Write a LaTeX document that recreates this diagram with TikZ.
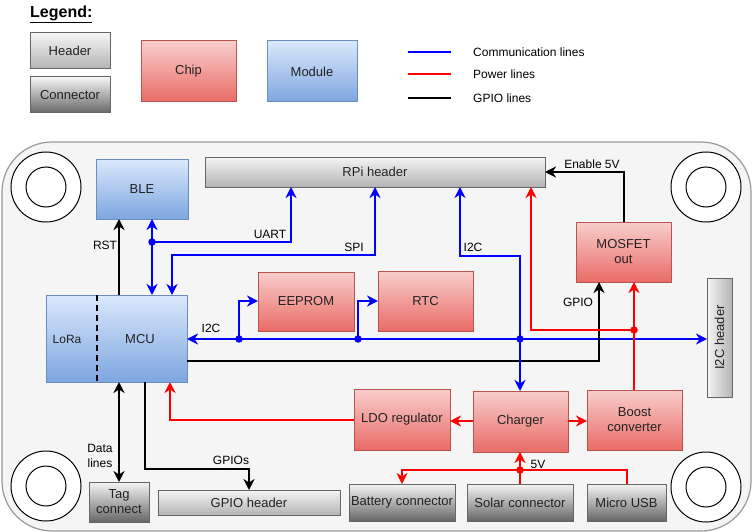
\documentclass[tikz,border=0pt]{standalone}
\usepackage{fontspec}
\setmainfont{Liberation Sans}
\usetikzlibrary{arrows.meta}

\definecolor{chipTop}{HTML}{F8CECC}
\definecolor{chipBot}{HTML}{EA6B66}
\definecolor{chipLine}{HTML}{B85450}
\definecolor{modTop}{HTML}{DAE8FC}
\definecolor{modBot}{HTML}{7EA6E0}
\definecolor{modLine}{HTML}{6C8EBF}
\definecolor{grayTop}{HTML}{F5F5F5}
\definecolor{hdrBot}{HTML}{B3B3B3}
\definecolor{conBot}{HTML}{666666}
\definecolor{grayLine}{HTML}{666666}
\definecolor{boardFill}{HTML}{F5F5F5}
\definecolor{boardLine}{HTML}{999999}
\definecolor{txt}{HTML}{222222}
\definecolor{commBlue}{HTML}{0000FF}
\definecolor{powRed}{HTML}{FF0000}

\tikzset{
  boxbase/.style={draw, line width=1pt, inner sep=1pt, outer sep=0pt, align=center,
    text=txt, font=\fontsize{13}{15}\selectfont},
  chipbox/.style={boxbase, draw=chipLine, top color=chipTop, bottom color=chipBot},
  modbox/.style={boxbase, draw=modLine, top color=modTop, bottom color=modBot},
  hdrbox/.style={boxbase, draw=grayLine, top color=grayTop, bottom color=hdrBot},
  conbox/.style={boxbase, draw=grayLine, top color=grayTop, bottom color=conBot},
  wire/.style={line width=2pt},
  comm/.style={wire, draw=commBlue},
  pow/.style={wire, draw=powRed},
  gpio/.style={wire, draw=black},
  lbl/.style={font=\fontsize{12}{14}\selectfont, text=black, inner sep=0pt, align=center},
  jdot/.style={circle, inner sep=0pt, minimum size=7.5pt},
  hole/.style={draw=black, line width=1pt, fill=white},
}

\begin{document}
\begin{tikzpicture}[x=1pt, y=-1pt, >={Stealth[length=11pt, width=11pt, inset=3.5pt]}]
\useasboundingbox (0,0) rectangle (752,532);

% ---------- legend ----------
\node[anchor=west, inner sep=0pt, font=\fontsize{16}{18}\selectfont\bfseries] (legtitle) at (30,14) {\underline{Legend:}};
\node[hdrbox, minimum width=80, minimum height=36] (lhdr) at (70,51) {Header};
\node[conbox, minimum width=80, minimum height=36] (lcon) at (70,95) {Connector};
\node[chipbox, minimum width=95, minimum height=61] (lchip) at (188.5,71.5) {Chip};
\node[modbox, minimum width=90, minimum height=61] (lmod) at (312,71.5) {Module};

\coordinate (lc1) at (408,52);  \coordinate (lc2) at (451,52);
\coordinate (lp1) at (408,74);  \coordinate (lp2) at (451,74);
\coordinate (lg1) at (408,98);  \coordinate (lg2) at (451,98);
\draw[comm] (lc1) -- (lc2);
\draw[pow]  (lp1) -- (lp2);
\draw[gpio] (lg1) -- (lg2);
\node[lbl, anchor=west] (tcomm) at (473,52) {Communication lines};
\node[lbl, anchor=west] (tpow)  at (473,74) {Power lines};
\node[lbl, anchor=west] (tgpio) at (473,98) {GPIO lines};

% ---------- board outline and mounting holes ----------
\draw[draw=boardLine, line width=1.2pt, fill=boardFill, rounded corners=50pt] (2,142) rectangle (751,531);
\foreach \hx/\hy in {46/187, 706/187, 46/486, 706/487} {
  \draw[hole] (\hx,\hy) circle[radius=35pt];
  \draw[hole] (\hx,\hy) circle[radius=20pt];
}

% ---------- blocks ----------
\node[modbox, minimum width=92, minimum height=60] (ble) at (142,189) {BLE};
\node[hdrbox, minimum width=340, minimum height=30] (rpi) at (375,172) {RPi header};
\node[modbox, minimum width=141, minimum height=87] (mcu) at (116.5,338.5) {};
\node[lbl, text=txt, font=\fontsize{12}{14}\selectfont] (loratxt) at (67,339) {LoRa};
\node[lbl, text=txt, font=\fontsize{13}{15}\selectfont] (mcutxt) at (140,339) {MCU};
\coordinate (dashtop) at (97,295);
\coordinate (dashbot) at (97,382);
\draw[line width=2pt, dash pattern=on 6pt off 4pt] (dashtop) -- (dashbot);

\node[chipbox, minimum width=96, minimum height=59] (eeprom) at (306,301.5) {EEPROM};
\node[chipbox, minimum width=95, minimum height=60] (rtc) at (425.5,301) {RTC};
\node[chipbox, minimum width=95, minimum height=60] (mosfet) at (623.5,252) {MOSFET\\out};
\node[boxbase, draw=grayLine, left color=grayTop, right color=hdrBot,
      minimum width=25, minimum height=119] (i2ch) at (719.5,337.5) {\rotatebox{90}{I2C header}};
\node[chipbox, minimum width=96, minimum height=61] (ldo) at (402,419.5) {LDO regulator};
\node[chipbox, minimum width=95, minimum height=61] (charger) at (520.5,421.5) {Charger};
\node[chipbox, minimum width=95, minimum height=60] (boost) at (634.5,420) {Boost\\converter};

\node[conbox, minimum width=106, minimum height=37] (battery) at (402,502.5) {Battery connector};
\node[conbox, minimum width=106, minimum height=37] (solar) at (520,502.5) {Solar connector};
\node[conbox, minimum width=79, minimum height=37] (usb) at (626.5,502.5) {Micro USB};
\node[hdrbox, minimum width=182, minimum height=25] (gpioh) at (249,502.5) {GPIO header};
\node[conbox, minimum width=60, minimum height=40] (tag) at (119,502) {Tag\\connect};

% ---------- junctions ----------
\coordinate (jble) at (152,242);
\coordinate (jeep) at (239,339);
\coordinate (jrtc) at (358,339);
\coordinate (jchg) at (520,339);
\coordinate (jpow) at (634,330);
\coordinate (j5v)  at (520,470);

% ---------- communication lines ----------
\draw[comm, <->] (152,0 |- ble.south) -- (152,0 |- mcu.north);
\draw[comm, ->] (jble) -- (291,242) -- (291,0 |- rpi.south);
\draw[comm, <->] (172,0 |- mcu.north) -- (172,255) -- (375,255) -- (375,0 |- rpi.south);
\draw[comm, <->] (mcu.east |- 0,339) -- (i2ch.west |- 0,339);
\draw[comm, ->] (jeep) -- (239,301) -- (eeprom.west |- 0,301);
\draw[comm, ->] (jrtc) -- (358,301) -- (rtc.west |- 0,301);
\draw[gpio, ->] (mcu.east |- 0,361) -- (599,361) -- (599,0 |- mosfet.south);
\draw[comm, <->] (460,0 |- rpi.south) -- (460,256) -- (520,256) -- (520,0 |- charger.north);

% ---------- power lines ----------
\draw[pow, <-] (531,0 |- rpi.south) -- (531,330) -- (634,330) -- (634,0 |- boost.north);
\draw[pow, ->] (jpow) -- (634,0 |- mosfet.south);
\draw[pow, ->] (charger.west |- 0,421) -- (ldo.east |- 0,421);
\draw[pow, ->] (charger.east |- 0,421) -- (boost.west |- 0,421);
\draw[pow, ->] (ldo.west |- 0,420) -- (170,420) -- (170,0 |- mcu.south);
\draw[pow, ->] (solar.north) -- (j5v) -- (520,0 |- charger.south);
\draw[pow] (usb.north) -- (626.5,470) -- (j5v);
\draw[pow, ->] (j5v) -- (402,470) -- (battery.north);

% ---------- GPIO lines ----------
\draw[gpio, ->] (119,0 |- mcu.north) -- (119,0 |- ble.south);
\draw[gpio, ->] (624,0 |- mosfet.north) -- (624,172) -- (rpi.east);
\draw[gpio, <->] (119,0 |- mcu.south) -- (tag.north);
\draw[gpio, ->] (145,0 |- mcu.south) -- (145,469) -- (249,469) -- (gpioh.north);

% ---------- junction dots ----------
\node[jdot, fill=commBlue] (dble) at (jble) {};
\node[jdot, fill=commBlue] (deep) at (jeep) {};
\node[jdot, fill=commBlue] (drtc) at (jrtc) {};
\node[jdot, fill=commBlue] (dchg) at (jchg) {};
\node[jdot, fill=powRed] (dpow) at (jpow) {};
\node[jdot, fill=powRed] (d5v) at (j5v) {};

% ---------- line labels ----------
\node[lbl] (lrst)  at (105,245) {RST};
\node[lbl] (luart) at (270,234) {UART};
\node[lbl] (lspi)  at (354,247) {SPI};
\node[lbl] (li2ca) at (473,247) {I2C};
\node[lbl] (li2cb) at (211,328) {I2C};
\node[lbl] (len)   at (592,164) {Enable 5V};
\node[lbl] (lgp)   at (578,302) {GPIO};
\node[lbl] (l5v)   at (538,464) {5V};
\node[lbl, font=\fontsize{12}{15}\selectfont] (ldata) at (100,456) {Data\\lines};
\node[lbl] (lgpios) at (231,460) {GPIOs};

\end{tikzpicture}
\end{document}
